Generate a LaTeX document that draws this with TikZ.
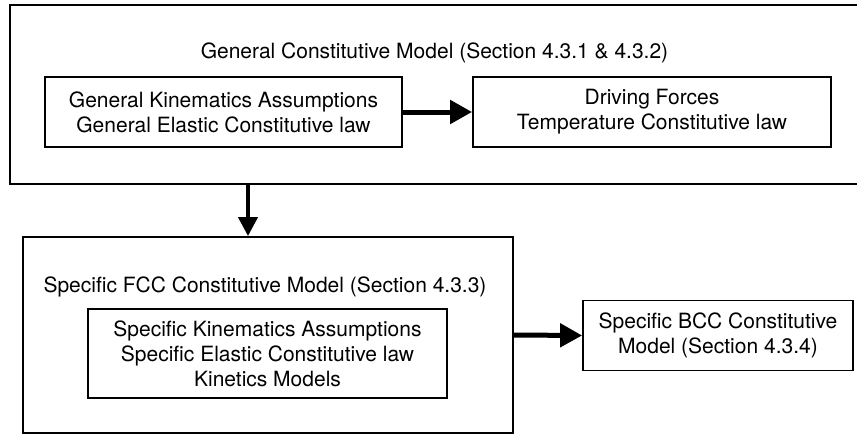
\documentclass[tikz,border=0pt]{standalone}
\usepackage{fontspec}
\setmainfont{TeX Gyre Heros}
\usetikzlibrary{arrows.meta,positioning,calc}

\begin{document}
\begin{tikzpicture}[x=1pt,y=-1pt,
      box/.style={draw,line width=1.8pt,inner sep=0pt,align=center,font=\fontsize{21}{25}\selectfont},
      label/.style={inner sep=0pt,font=\fontsize{21}{25}\selectfont},
      flow/.style={line width=5pt,-{Triangle[length=22pt,width=23pt]}},
      down/.style={line width=4pt,-{Triangle[length=19pt,width=19pt]}},
    ]
    \clip (0,0) rectangle (857,436);
    % general model
    \node[box,minimum width=850pt,minimum height=179pt] (genbox) at (435,94.5) {};
    \node[label] (gentitle) at (434.5,53) {General Constitutive Model (Section 4.3.1 \& 4.3.2)};
    \node[box,minimum width=357pt,minimum height=70pt] (kin) at (223.5,112) {General Kinematics Assumptions\\General Elastic Constitutive law};
    \node[box,minimum width=358pt,minimum height=70pt] (drv) at (652,112) {Driving Forces\\Temperature Constitutive law};
    \draw[flow] (kin.east) -- (drv.west);
    % fcc model
    \node[box,minimum width=490pt,minimum height=196pt] (fccbox) at (268,335) {};
    \node[label] (fcctitle) at (265,287) {Specific FCC Constitutive Model (Section 4.3.3)};
    \node[box,minimum width=359pt,minimum height=89pt] (spec) at (267.5,353.5) {Specific Kinematics Assumptions\\Specific Elastic Constitutive law\\Kinetics Models};
    \coordinate (dn) at (248,0);
    \draw[down] (genbox.south -| dn) -- (fccbox.north -| dn);
    % bcc model
    \node[box,minimum width=270pt,minimum height=70pt] (bcc) at (718,335.5) {Specific BCC Constitutive\\Model (Section 4.3.4)};
    \draw[flow] (fccbox.east) -- (bcc.west);
  \end{tikzpicture}
\end{document}
